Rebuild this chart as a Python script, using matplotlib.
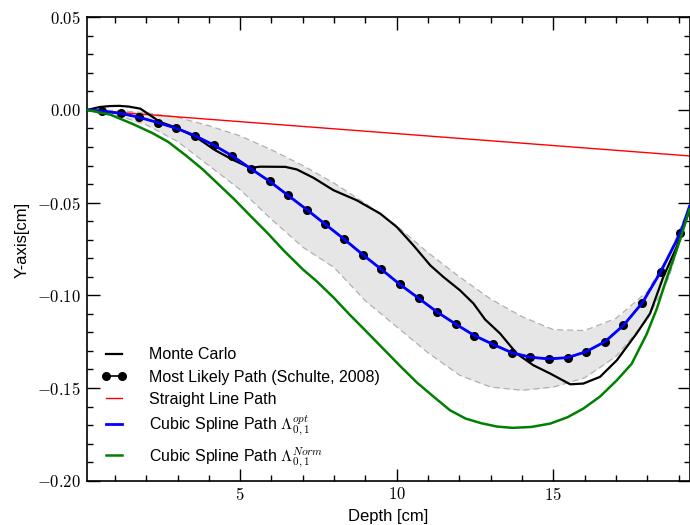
import matplotlib
matplotlib.use("Agg")
import matplotlib.pyplot as plt
from matplotlib.ticker import MultipleLocator, FuncFormatter

plt.rcParams['font.family'] = ['Liberation Sans', 'DejaVu Sans']
plt.rcParams['mathtext.fontset'] = 'cm'

# Monte Carlo mean path
mc_x = [0.11, 0.52, 0.84, 1.15, 1.45, 1.81, 2.13, 2.44, 2.97, 3.61, 4.20, 4.79, 5.32,
        5.64, 6.44, 6.81, 7.34, 7.98, 8.72, 9.47, 10.0, 10.53, 11.07, 11.49, 12.02,
        12.45, 12.82, 13.30, 13.83, 14.36, 14.90, 15.54, 15.96, 16.49, 17.03, 17.66,
        18.09, 18.51, 18.94, 19.35]
mc_y = [0.0, 0.0016, 0.0021, 0.0022, 0.0018, 0.0007, -0.0029, -0.0065, -0.0096, -0.0149,
        -0.0217, -0.0271, -0.0312, -0.0306, -0.0307, -0.0321, -0.0366, -0.0433, -0.0487,
        -0.0559, -0.0631, -0.0730, -0.0838, -0.0901, -0.0973, -0.1044, -0.1130, -0.1206,
        -0.1314, -0.1377, -0.1422, -0.1480, -0.1476, -0.1440, -0.1350, -0.1206, -0.1098,
        -0.0902, -0.0739, -0.0541]

# Most likely path (Schulte, 2008)
mlp_x = [0.59, 1.18, 1.78, 2.37, 2.96, 3.56, 4.15, 4.75, 5.34, 5.94, 6.53, 7.13, 7.72,
         8.32, 8.91, 9.51, 10.10, 10.70, 11.29, 11.89, 12.48, 13.08, 13.67, 14.27, 14.86,
         15.46, 16.05, 16.65, 17.24, 17.84, 18.43, 19.06]
mlp_y = [-0.0006, -0.0018, -0.0040, -0.0068, -0.0099, -0.0139, -0.0189, -0.0248, -0.0317,
         -0.0385, -0.0461, -0.0538, -0.0617, -0.0697, -0.0780, -0.0860, -0.0941, -0.1016,
         -0.1090, -0.1156, -0.1217, -0.1265, -0.1309, -0.1334, -0.1343, -0.1336, -0.1304,
         -0.1250, -0.1162, -0.1041, -0.0873, -0.0663]

# Straight line path
slp_x = [0.1, 19.35]
slp_y = [0.0, -0.0248]

# Cubic spline, optimal lambda
opt_x = [0.1] + mlp_x + [19.35]
opt_y = [0.0] + mlp_y + [-0.0520]

# Cubic spline, normal lambda
norm_x = [0.11, 0.85, 1.15, 1.6, 2.2, 2.7, 3.3, 3.8, 4.3, 4.8, 5.35, 5.85, 6.4, 7.0, 7.45,
          8.0, 8.5, 9.0, 9.58, 10.1, 10.64, 11.2, 11.7, 12.2, 12.7, 13.2, 13.7, 14.3, 14.9,
          15.45, 15.96, 16.5, 17.03, 17.5, 17.98, 18.3, 18.62, 19.05, 19.35]
norm_y = [0.0, -0.0025, -0.0046, -0.0078, -0.0125, -0.0172, -0.0250, -0.0320, -0.0400,
          -0.0480, -0.0575, -0.0660, -0.0760, -0.0860, -0.0925, -0.1015, -0.1105, -0.1190,
          -0.1290, -0.1380, -0.1470, -0.1550, -0.1620, -0.1665, -0.1690, -0.1708, -0.1715,
          -0.1710, -0.1692, -0.1658, -0.1611, -0.1545, -0.1458, -0.1370, -0.1210, -0.1075,
          -0.0910, -0.0700, -0.0535]

# MLP uncertainty envelope
band_x = [0.11, 1.0, 2.0, 3.0, 4.0, 5.0, 6.0, 7.0, 8.0, 9.0, 10.0, 11.0, 12.0, 13.0, 14.0,
          15.0, 16.0, 17.0, 18.0, 18.7, 19.35]
band_hi = [0.0, -0.0003, -0.0015, -0.0040, -0.0085, -0.0140, -0.0215, -0.0300, -0.0395,
           -0.0505, -0.0625, -0.0770, -0.0900, -0.1020, -0.1115, -0.1185, -0.1190, -0.1125,
           -0.0980, -0.0780, -0.0520]
band_lo = [0.0, -0.0025, -0.0080, -0.0170, -0.0300, -0.0430, -0.0590, -0.0740, -0.0850,
           -0.1030, -0.1170, -0.1310, -0.1430, -0.1495, -0.1512, -0.1495, -0.1445, -0.1330,
           -0.1130, -0.0900, -0.0520]

fig = plt.figure(figsize=(6.9, 5.25), dpi=100)
ax = fig.add_axes([0.1257, 0.0844, 0.8736, 0.8827])

ax.fill_between(band_x, band_lo, band_hi, color='#e6e6e6', lw=0, zorder=1)
ax.plot(band_x, band_hi, color='#b0b0b0', ls=(0, (5, 3)), lw=0.9, zorder=1.5)
ax.plot(band_x, band_lo, color='#b0b0b0', ls=(0, (5, 3)), lw=0.9, zorder=1.5)

ax.plot(mc_x, mc_y, color='black', lw=1.6, label='Monte Carlo', zorder=3)
ax.plot(mlp_x, mlp_y, color='black', lw=1.2, marker='o', ms=5.5,
        label='Most Likely Path (Schulte, 2008)', zorder=2.5)
ax.plot(slp_x, slp_y, color='red', lw=1.0, label='Straight Line Path', zorder=2)
ax.plot(opt_x, opt_y, color='blue', lw=2.0, label=r'Cubic Spline Path $\Lambda_{0,1}^{opt}$', zorder=4)
ax.plot(norm_x, norm_y, color='green', lw=1.8, label=r'Cubic Spline Path $\Lambda_{0,1}^{Norm}$', zorder=4)

ax.set_xlim(0.1, 19.35)
ax.set_ylim(-0.20, 0.05)

ax.xaxis.set_major_locator(MultipleLocator(5))
ax.xaxis.set_minor_locator(MultipleLocator(1))
ax.yaxis.set_major_locator(MultipleLocator(0.05))
ax.yaxis.set_minor_locator(MultipleLocator(0.01))
ax.xaxis.set_major_formatter(FuncFormatter(lambda v, p: r"$%d$" % round(v)))
ax.yaxis.set_major_formatter(FuncFormatter(lambda v, p: r"$%.2f$" % (0.0 if abs(v) < 1e-9 else v)))

ax.tick_params(which='both', direction='in', top=True, right=True, labelsize=12)
ax.tick_params(which='major', length=9, width=1.0, pad=4)
ax.tick_params(which='minor', length=4.5, width=1.0)
for s in ax.spines.values():
    s.set_linewidth(1.2)

ax.set_xlabel('Depth [cm]', fontsize=12, labelpad=4)
ax.set_ylabel('Y-axis[cm]', fontsize=12)
ax.yaxis.set_label_coords(-0.094, 0.52)

ax.legend(loc='lower left', bbox_to_anchor=(0.006, 0.0), frameon=False, fontsize=11.5,
          handlelength=1.6, handletextpad=1.4, labelspacing=0.45, borderaxespad=0.3,
          numpoints=2)

fig.savefig('out.png', dpi=100)
